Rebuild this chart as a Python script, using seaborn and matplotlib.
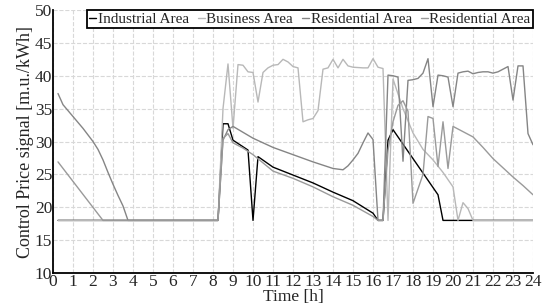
import matplotlib
matplotlib.use("Agg")
import matplotlib.pyplot as plt
import seaborn as sns

# data (hour, price)
ind_h = [0.25, 8.25, 8.5, 8.75, 9.0, 9.25, 9.5, 9.75, 10.0, 10.25, 11, 12, 13, 14, 15, 16, 16.25,
         16.5, 16.75, 17.0, 17.5, 18.0, 18.5, 19.0, 19.25, 19.5, 24]
ind_p = [18, 18, 32.7, 32.7, 30.2, 29.7, 29.2, 28.7, 18, 27.7, 26.1, 24.9, 23.7, 22.3, 21.0, 19.1, 18,
         18, 30.2, 31.8, 29.6, 27.4, 25.2, 23.0, 21.9, 18, 18]

bus_h = [0.25, 8.25, 8.5, 8.75, 9.0, 9.25, 9.5, 9.75, 10.0, 10.25, 10.5, 10.75, 11.0, 11.25, 11.5,
         11.75, 12.0, 12.25, 12.5, 12.75, 13.0, 13.25, 13.5, 13.75, 14.0, 14.25, 14.5, 14.75, 15.0,
         15.5, 15.75, 16.0, 16.25, 16.5, 16.75, 17.0, 17.5, 18.0, 18.5, 19.0, 19.5, 20.0, 20.25,
         20.5, 20.75, 21.0, 24]
bus_p = [18, 18, 35.0, 41.8, 32.0, 41.7, 41.6, 40.6, 40.5, 36.0, 40.5, 41.2, 41.6, 41.7, 42.5,
         42.1, 41.4, 41.2, 33.0, 33.3, 33.5, 34.7, 41.0, 41.2, 42.5, 41.2, 42.5, 41.5, 41.3,
         41.2, 41.2, 42.6, 41.3, 41.1, 18, 39.5, 35.0, 31.3, 28.8, 27.2, 25.3, 23.1, 18,
         20.7, 19.8, 18, 18]

resa_h = [0.25, 0.5, 1.0, 1.5, 2.0, 2.25, 2.5, 2.75, 3.0, 3.25, 3.5, 3.75, 8.25, 8.5, 8.75, 9.0,
          9.5, 10.0, 11, 12, 13, 14, 14.5, 14.75, 15.0, 15.25, 15.5, 15.75, 16.0, 16.25,
          16.5, 16.75, 17.0, 17.25, 17.5, 17.75, 18.0, 18.25, 18.5, 18.75, 19.0, 19.25, 19.5,
          19.75, 20.0, 20.25, 20.5, 20.75, 21.0, 21.25, 21.5, 21.75, 22.0, 22.25, 22.5, 22.75,
          23.0, 23.25, 23.5, 23.75, 24.0]
resa_p = [37.3, 35.6, 33.8, 32.0, 30.0, 28.8, 27.2, 25.3, 23.5, 21.8, 20.2, 18, 18, 30.2, 31.8, 32.3,
          31.4, 30.5, 29.1, 28.0, 26.9, 25.9, 25.7, 26.3, 27.2, 28.2, 29.8, 31.3, 30.3, 18,
          18, 40.1, 40.0, 39.8, 27.0, 39.3, 39.4, 39.6, 40.4, 42.6, 35.3, 40.1, 40.0,
          39.8, 35.3, 40.4, 40.6, 40.7, 40.3, 40.5, 40.6, 40.6, 40.4, 40.6, 41.0, 41.4,
          36.3, 41.5, 41.5, 31.2, 29.5]

resb_h = [0.25, 2.5, 8.25, 8.5, 8.75, 9.0, 9.5, 10.0, 11, 12, 13, 14, 15, 16, 16.25, 16.5, 16.75,
          17.0, 17.25, 17.5, 17.75, 18.0, 18.25, 18.5, 18.75, 19.0, 19.25, 19.5, 19.75, 20.0,
          20.5, 21.0, 21.5, 22.0, 22.5, 23.0, 23.5, 24.0]
resb_p = [26.9, 18, 18, 30.5, 31.2, 29.8, 29.0, 28.0, 25.5, 24.4, 23.1, 21.6, 20.3, 18.6, 18, 18, 28.7,
          33.0, 35.5, 36.2, 34.6, 20.6, 22.8, 25.0, 33.8, 33.5, 26.2, 33.0, 25.9, 32.3,
          31.5, 30.7, 29.1, 27.4, 26.0, 24.6, 23.3, 21.9]

series = [
    ("Industrial Area", ind_h, ind_p, "black"),
    ("Business Area", bus_h, bus_p, "#b8b8b8"),
    ("Residential Area", resa_h, resa_p, "#858585"),
    ("Residential Area", resb_h, resb_p, "#9a9a9a"),
]

sns.set_style("whitegrid")
plt.rcParams["font.family"] = ["Liberation Serif", "DejaVu Serif"]
plt.rcParams["font.size"] = 11

fig, ax = plt.subplots(figsize=(5.43, 3.08), dpi=100)
fig.subplots_adjust(left=0.0976, right=0.9816, top=0.9675, bottom=0.1136)

for name, h, p, c in series:
    sns.lineplot(x=h, y=p, color=c, label=name, linewidth=1.0, estimator=None, ax=ax)

ax.set_xlim(0, 24)
ax.set_ylim(10, 50)
ax.set_xticks(range(0, 25))
ax.set_yticks(range(10, 51, 5))
ax.grid(True, color="#d8d8d8", linestyle="--", linewidth=0.8)
ax.set_axisbelow(True)
for s in ["top", "right"]:
    ax.spines[s].set_visible(False)
for s in ["left", "bottom"]:
    ax.spines[s].set_color("black")
    ax.spines[s].set_linewidth(1.3)
ax.tick_params(direction="in", length=4, width=1, color="black", labelsize=12.5, pad=0.5)

ax.set_xlabel("Time [h]", fontsize=12.5, labelpad=-0.5)
ax.set_ylabel("Control Price signal [m.u./kWh]", fontsize=13, labelpad=1)

leg = ax.legend(loc="upper right", ncol=4, frameon=True, fancybox=False, fontsize=11,
                handlelength=0.45, handletextpad=0.1, columnspacing=0.6,
                borderpad=0.15, borderaxespad=0.0, bbox_to_anchor=(1.0, 1.0))
leg.get_frame().set_edgecolor("black")
leg.get_frame().set_linewidth(1.3)
leg.get_frame().set_alpha(1)

fig.savefig("out.png", dpi=100)
